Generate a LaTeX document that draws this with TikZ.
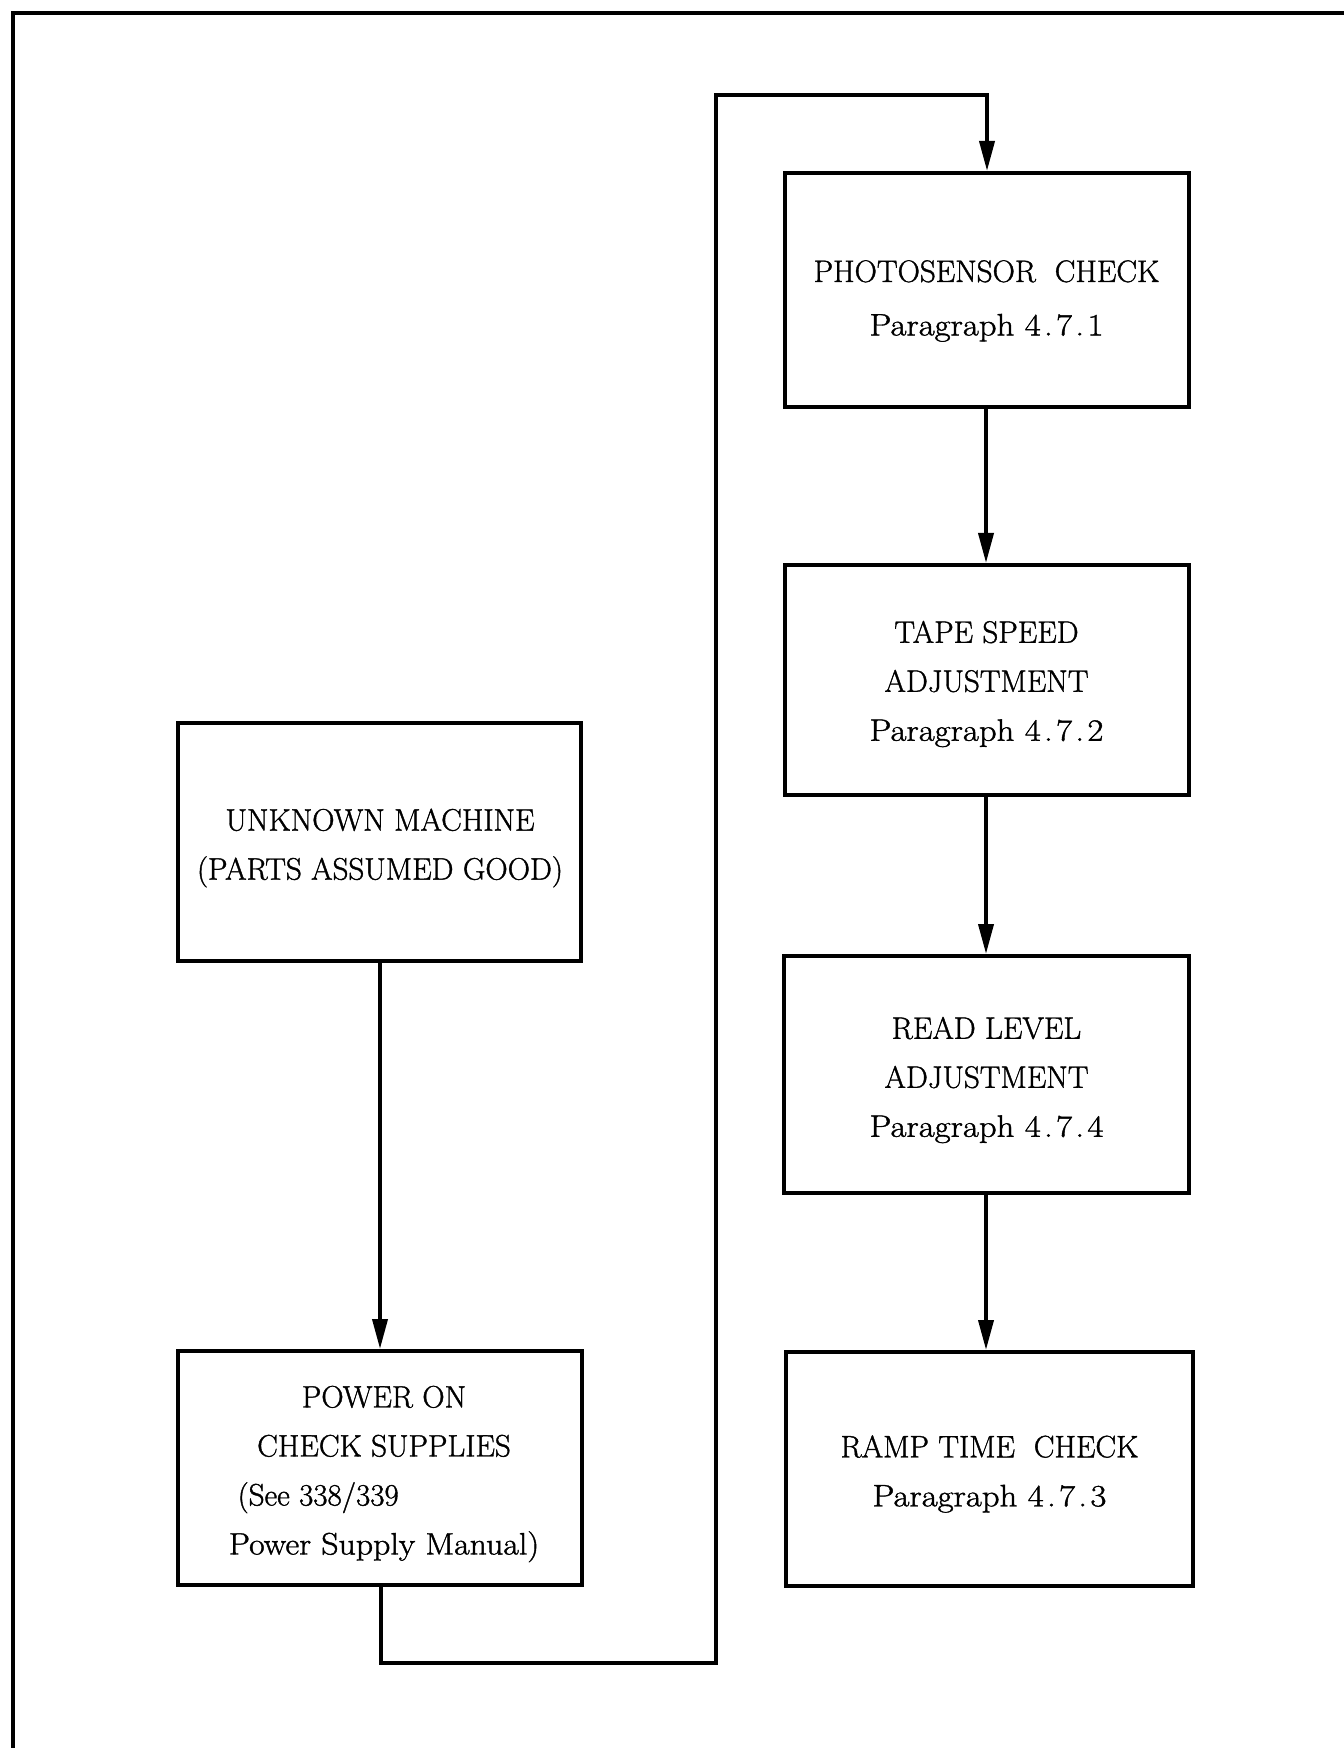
\documentclass[tikz,border=0pt]{standalone}
\usepackage{calc}
\usepackage{fontspec}
\newfontfamily\boxfont{Latin Modern Roman}[FakeBold=1.2]
\newcommand{\para}[3]{\scalebox{1.12}[1]{Paragraph #1\kern1.5pt.\kern1.5pt#2\kern1.5pt.\kern1.5pt#3}}
\newcommand{\psm}{\scalebox{1.09}[1]{Power Supply Manual)}}
\usetikzlibrary{arrows.meta}
\begin{document}
\begin{tikzpicture}[x=0.5pt,y=-0.5pt,
  box/.style={draw,line width=2pt,minimum width=#1,inner sep=0pt},
  txt/.style={align=center,font=\boxfont\fontsize{15.5}{#1}\selectfont},
  txt/.default=24.5,
  link/.style={line width=1.9pt,-{Triangle[length=15pt,width=7.5pt]}}]
\useasboundingbox (0,0) rectangle (1343,1748);
\draw[line width=2pt] (13,1760) -- (13,13) -- (1360,13);
% left column
\node[box=201.5pt,minimum height=119pt] (unk) at (379.5,842) {};
\node[txt] (unkt) at (380,848) {UNKNOWN MACHINE\\(PARTS ASSUMED GOOD)};
\node[box=202pt,minimum height=117pt] (pow) at (380,1468) {};
\node[txt] (powt) at (384,1474) {POWER ON\\CHECK SUPPLIES\\\makebox[\widthof{\psm}][l]{\hspace{4.5pt}(See 338/339}\\\psm};
% right column
\node[box=202pt,minimum height=117pt] (pho) at (986.5,290) {};
\node[txt=26.75] (phot) at (986.5,301) {PHOTOSENSOR\ \ CHECK\\\para{4}{7}{1}};
\node[box=202pt,minimum height=115pt] (tap) at (986.5,680) {};
\node[txt] (tapt) at (986.5,684) {TAPE SPEED\\ADJUSTMENT\\\para{4}{7}{2}};
\node[box=202.5pt,minimum height=118.5pt] (rea) at (986.5,1074.5) {};
\node[txt] (reat) at (986.5,1080) {READ LEVEL\\ADJUSTMENT\\\para{4}{7}{4}};
\node[box=203.5pt,minimum height=117pt] (ram) at (989.5,1469) {};
\node[txt] (ramt) at (989.5,1474) {RAMP TIME\ \ CHECK\\\para{4}{7}{3}};
% connectors
\coordinate (c1) at (381,1663);
\coordinate (c2) at (716,1663);
\coordinate (c3) at (716,95);
\coordinate (c4) at (987,95);
\draw[link] (unk.south -| 380,0) -- (pow.north -| 380,0);
\draw[link] (pow.south -| c1) -- (c1) -- (c2) -- (c3) -- (c4) -- (pho.north -| c4);
\draw[link] (pho.south -| 986,0) -- (tap.north -| 986,0);
\draw[link] (tap.south -| 986,0) -- (rea.north -| 986,0);
\draw[link] (rea.south -| 986,0) -- (ram.north -| 986,0);
\end{tikzpicture}
\end{document}
